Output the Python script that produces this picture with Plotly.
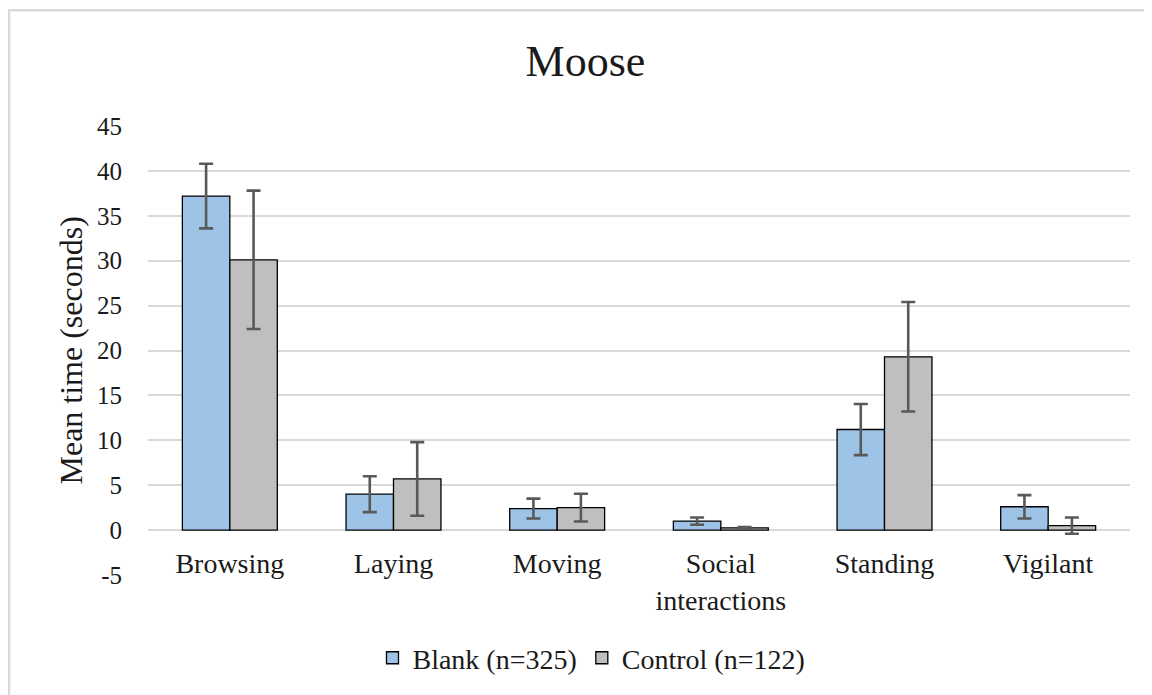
import plotly.graph_objects as go

categories = ["Browsing", "Laying", "Moving", "Social<br>interactions", "Standing", "Vigilant"]
blank_mean = [37.2, 4.0, 2.4, 1.0, 11.2, 2.6]
blank_err = [3.6, 2.0, 1.1, 0.4, 2.85, 1.3]
control_mean = [30.1, 5.7, 2.5, 0.25, 19.3, 0.5]
control_err = [7.7, 4.1, 1.55, 0.1, 6.1, 0.9]
y_ticks = [-5, 0, 5, 10, 15, 20, 25, 30, 35, 40, 45]
y_tick_labels = [str(v) for v in y_ticks]

FONT = "Liberation Serif"
TXT = "#1a1a1a"

fig = go.Figure()
fig.add_trace(go.Bar(
    name="Blank (n=325)", x=categories, y=blank_mean,
    marker=dict(color="#9DC3E6", line=dict(color="#000000", width=1.3)),
    error_y=dict(type="data", array=blank_err, visible=True, color="#595959", thickness=2.6, width=7),
))
fig.add_trace(go.Bar(
    name="Control (n=122)", x=categories, y=control_mean,
    marker=dict(color="#BFBFBF", line=dict(color="#000000", width=1.3)),
    error_y=dict(type="data", array=control_err, visible=True, color="#595959", thickness=2.6, width=7),
))

fig.update_layout(
    width=1152, height=695,
    margin=dict(l=140, r=30, t=118, b=128, autoexpand=False),
    paper_bgcolor="white", plot_bgcolor="white",
    barmode="group", bargap=0.42, bargroupgap=0,
    font=dict(family=FONT, color=TXT, size=25),
    title=dict(text="Moose", font=dict(family=FONT, size=44, color=TXT),
               xref="container", x=0.5013, y=0.9245, xanchor="center", yanchor="middle"),
    showlegend=True,
    legend=dict(orientation="h", xref="container", yref="container", x=0.5065, y=0.0647,
                xanchor="center", yanchor="middle", font=dict(family=FONT, size=28, color=TXT),
                itemwidth=30, tracegroupgap=0),
    xaxis=dict(anchor="free", position=0.1, showline=False, ticks="", showgrid=False,
               tickfont=dict(family=FONT, size=28, color=TXT), zeroline=False,
               ticklabelstandoff=14),
    yaxis=dict(range=[-5, 45], tickvals=y_ticks, ticktext=y_tick_labels, ticks="", showline=False,
               gridcolor="#d9d9d9", gridwidth=2, zeroline=False,
               tickfont=dict(family=FONT, size=25, color=TXT), ticklabelstandoff=25),
)

fig.add_annotation(text="Mean time (seconds)", xref="paper", yref="paper",
                   x=-0.0794, y=0.5, textangle=-90, showarrow=False,
                   font=dict(family=FONT, size=32, color=TXT),
                   xanchor="center", yanchor="middle")

fig.add_shape(type="rect", xref="paper", yref="paper",
              x0=-0.1415, x1=1.04, y0=-0.3, y1=1.258,
              line=dict(color="#d9d9d9", width=2.5), fillcolor="rgba(0,0,0,0)", layer="below")

fig.write_html("out.html")
